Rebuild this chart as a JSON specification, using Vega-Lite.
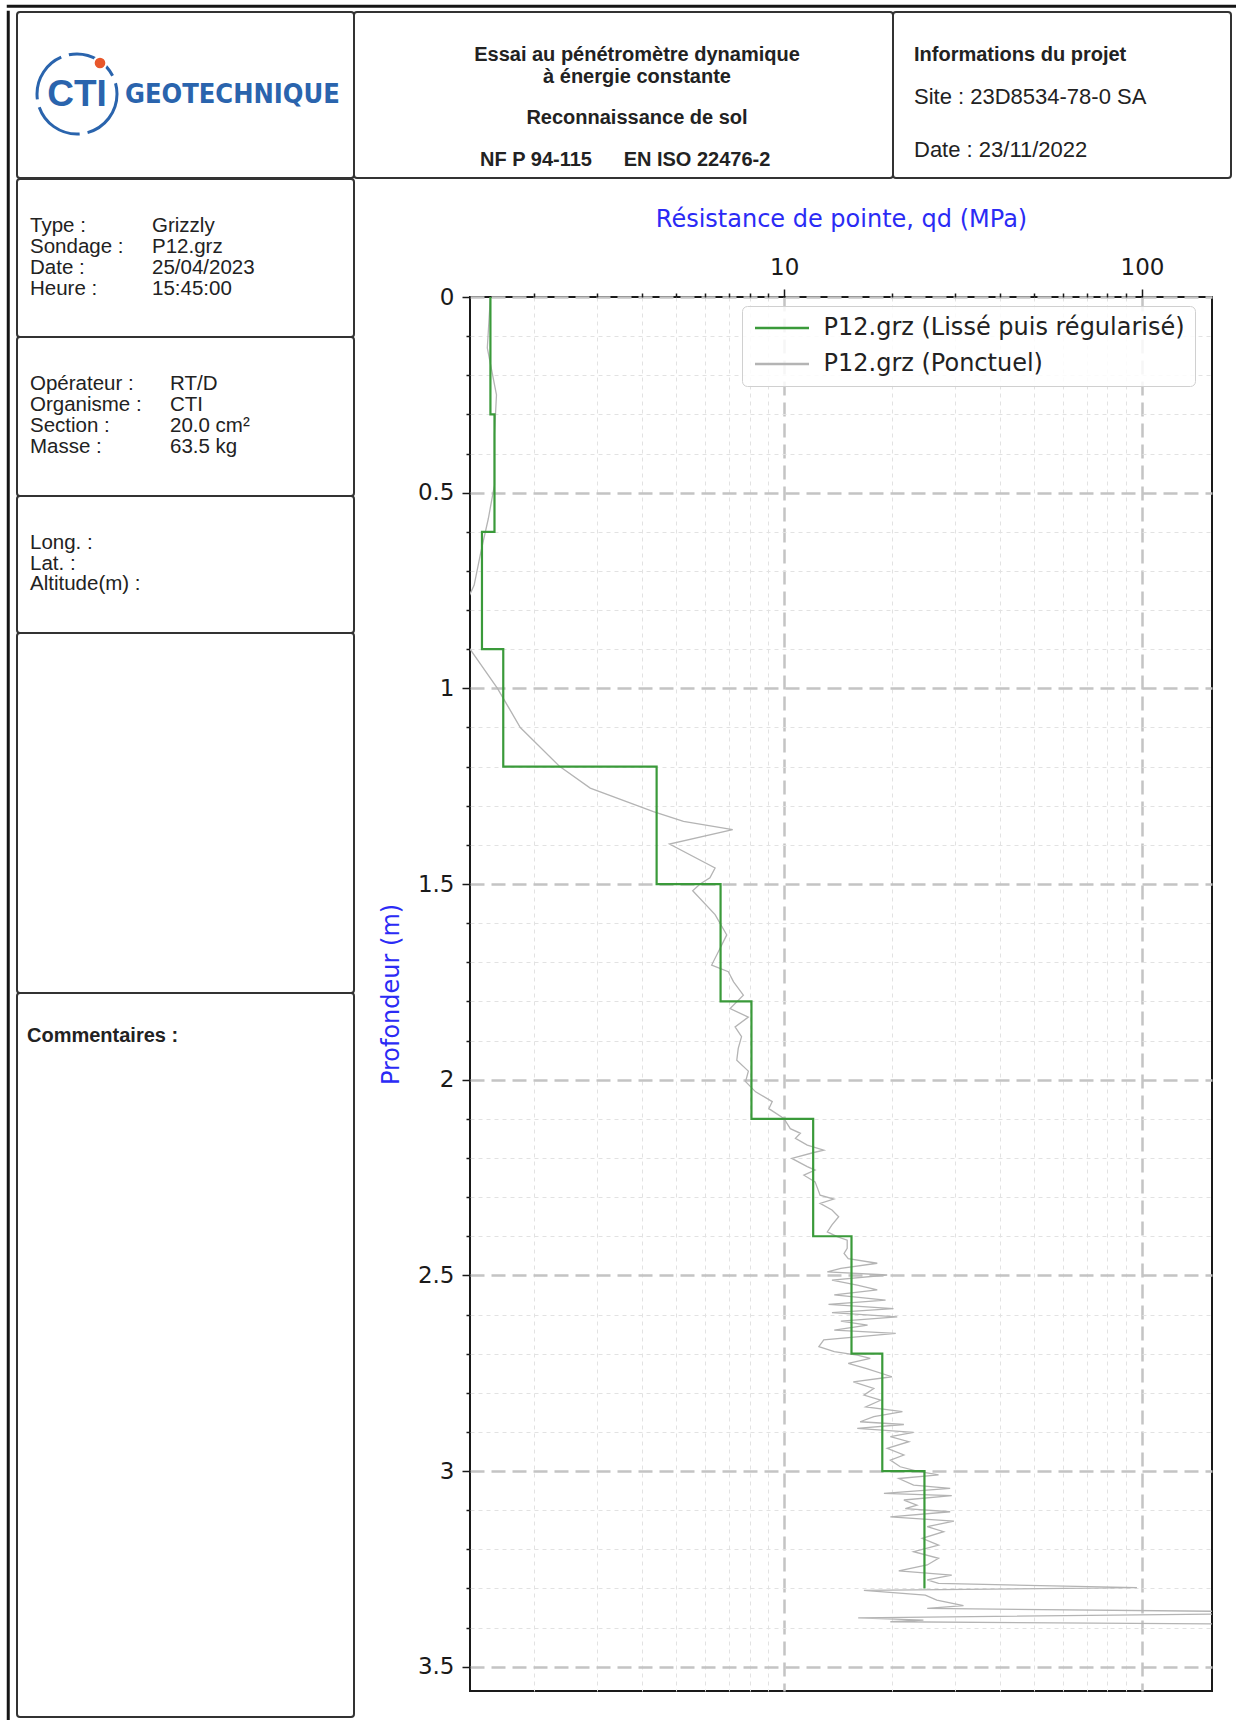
{
  "$schema": "https://vega.github.io/schema/vega-lite/v6.json",
  "padding": {"left": 6, "top": 4, "right": 0, "bottom": 0},
  "config": {
    "view": {"stroke": "#333333", "strokeWidth": 2, "cornerRadius": 3},
    "text": {"font": "Liberation Sans", "color": "#222222"},
    "concat": {"spacing": 0}
  },
  "datasets": {
    "lisse": [
      {"depth": 0, "qd": 1.51}, {"depth": 0.3, "qd": 1.55}, {"depth": 0.6, "qd": 1.43}, {"depth": 0.9, "qd": 1.64},
      {"depth": 1.2, "qd": 4.4}, {"depth": 1.5, "qd": 6.64}, {"depth": 1.8, "qd": 8.1}, {"depth": 2.1, "qd": 12.05},
      {"depth": 2.4, "qd": 15.42}, {"depth": 2.7, "qd": 18.8}, {"depth": 3.0, "qd": 24.66}, {"depth": 3.3, "qd": 24.66}
    ],
    "ponctuel": [
      {"depth": 0.0, "qd": 1.51}, {"depth": 0.13, "qd": 1.48}, {"depth": 0.25, "qd": 1.57}, {"depth": 0.35, "qd": 1.55},
      {"depth": 0.48, "qd": 1.55}, {"depth": 0.566, "qd": 1.49}, {"depth": 0.651, "qd": 1.42}, {"depth": 0.736, "qd": 1.36},
      {"depth": 0.83, "qd": 1.22}, {"depth": 0.898, "qd": 1.32}, {"depth": 1.0, "qd": 1.58}, {"depth": 1.1, "qd": 1.83},
      {"depth": 1.2, "qd": 2.36}, {"depth": 1.255, "qd": 2.87}, {"depth": 1.315, "qd": 4.31}, {"depth": 1.34, "qd": 5.23},
      {"depth": 1.361, "qd": 7.18}, {"depth": 1.398, "qd": 4.78}, {"depth": 1.459, "qd": 6.41}, {"depth": 1.484, "qd": 6.2},
      {"depth": 1.5, "qd": 5.82}, {"depth": 1.517, "qd": 5.55}, {"depth": 1.578, "qd": 6.41}, {"depth": 1.63, "qd": 6.91},
      {"depth": 1.664, "qd": 6.62}, {"depth": 1.707, "qd": 6.27}, {"depth": 1.724, "qd": 6.98}, {"depth": 1.75, "qd": 7.22},
      {"depth": 1.784, "qd": 7.69}, {"depth": 1.818, "qd": 7.06}, {"depth": 1.84, "qd": 7.94}, {"depth": 1.865, "qd": 7.29},
      {"depth": 1.89, "qd": 7.6}, {"depth": 1.92, "qd": 7.44}, {"depth": 1.95, "qd": 7.37}, {"depth": 1.978, "qd": 7.94},
      {"depth": 2.005, "qd": 7.8}, {"depth": 2.031, "qd": 8.32}, {"depth": 2.056, "qd": 9.26}, {"depth": 2.074, "qd": 9.06},
      {"depth": 2.099, "qd": 9.98}, {"depth": 2.125, "qd": 10.4}, {"depth": 2.137, "qd": 11.1}, {"depth": 2.15, "qd": 10.75},
      {"depth": 2.167, "qd": 11.6}, {"depth": 2.18, "qd": 12.9}, {"depth": 2.186, "qd": 12.1}, {"depth": 2.201, "qd": 10.5},
      {"depth": 2.222, "qd": 11.6}, {"depth": 2.231, "qd": 12.2}, {"depth": 2.244, "qd": 11.35}, {"depth": 2.261, "qd": 12.2},
      {"depth": 2.295, "qd": 12.6}, {"depth": 2.305, "qd": 13.76}, {"depth": 2.316, "qd": 12.6}, {"depth": 2.333, "qd": 13.6},
      {"depth": 2.35, "qd": 14.2}, {"depth": 2.371, "qd": 13.6}, {"depth": 2.389, "qd": 13.2}, {"depth": 2.401, "qd": 14.06},
      {"depth": 2.41, "qd": 15.0}, {"depth": 2.431, "qd": 15.0}, {"depth": 2.444, "qd": 14.7}, {"depth": 2.457, "qd": 15.1},
      {"depth": 2.469, "qd": 18.2}, {"depth": 2.482, "qd": 14.4}, {"depth": 2.491, "qd": 13.2}, {"depth": 2.499, "qd": 19.4},
      {"depth": 2.512, "qd": 13.6}, {"depth": 2.525, "qd": 16.0}, {"depth": 2.537, "qd": 18.2}, {"depth": 2.55, "qd": 13.8},
      {"depth": 2.563, "qd": 19.2}, {"depth": 2.574, "qd": 13.3}, {"depth": 2.585, "qd": 20.2}, {"depth": 2.595, "qd": 13.6},
      {"depth": 2.606, "qd": 20.7}, {"depth": 2.617, "qd": 14.4}, {"depth": 2.627, "qd": 17.1}, {"depth": 2.64, "qd": 13.8},
      {"depth": 2.648, "qd": 20.5}, {"depth": 2.665, "qd": 12.9}, {"depth": 2.682, "qd": 12.5}, {"depth": 2.695, "qd": 13.8},
      {"depth": 2.704, "qd": 16.0}, {"depth": 2.712, "qd": 17.4}, {"depth": 2.725, "qd": 15.1}, {"depth": 2.738, "qd": 17.0},
      {"depth": 2.759, "qd": 20.0}, {"depth": 2.772, "qd": 15.6}, {"depth": 2.789, "qd": 17.8}, {"depth": 2.806, "qd": 16.7},
      {"depth": 2.819, "qd": 18.6}, {"depth": 2.836, "qd": 16.9}, {"depth": 2.848, "qd": 21.4}, {"depth": 2.861, "qd": 17.8},
      {"depth": 2.874, "qd": 16.3}, {"depth": 2.881, "qd": 21.6}, {"depth": 2.891, "qd": 16.0}, {"depth": 2.901, "qd": 23.0},
      {"depth": 2.912, "qd": 19.8}, {"depth": 2.925, "qd": 22.3}, {"depth": 2.942, "qd": 19.4}, {"depth": 2.959, "qd": 21.6},
      {"depth": 2.972, "qd": 19.8}, {"depth": 2.989, "qd": 21.1}, {"depth": 3.0, "qd": 23.5}, {"depth": 3.01, "qd": 27.0},
      {"depth": 3.019, "qd": 20.9}, {"depth": 3.036, "qd": 23.0}, {"depth": 3.044, "qd": 29.1}, {"depth": 3.057, "qd": 19.0},
      {"depth": 3.063, "qd": 29.4}, {"depth": 3.074, "qd": 21.6}, {"depth": 3.087, "qd": 23.5}, {"depth": 3.096, "qd": 21.8},
      {"depth": 3.104, "qd": 29.1}, {"depth": 3.117, "qd": 19.8}, {"depth": 3.128, "qd": 29.8}, {"depth": 3.142, "qd": 25.1},
      {"depth": 3.155, "qd": 27.9}, {"depth": 3.172, "qd": 24.3}, {"depth": 3.189, "qd": 27.0}, {"depth": 3.206, "qd": 23.0},
      {"depth": 3.223, "qd": 27.0}, {"depth": 3.24, "qd": 25.1}, {"depth": 3.255, "qd": 20.9}, {"depth": 3.266, "qd": 29.4},
      {"depth": 3.278, "qd": 25.1}, {"depth": 3.287, "qd": 27.0}, {"depth": 3.298, "qd": 96.8}, {"depth": 3.305, "qd": 16.7},
      {"depth": 3.317, "qd": 24.8}, {"depth": 3.33, "qd": 26.7}, {"depth": 3.344, "qd": 31.7}, {"depth": 3.351, "qd": 25.1},
      {"depth": 3.362, "qd": 400}, {"depth": 3.375, "qd": 16.1}, {"depth": 3.381, "qd": 24.5}, {"depth": 3.385, "qd": 19.8},
      {"depth": 3.393, "qd": 400}
    ]
  },
  "spacing": 2,
  "vconcat": [
    {
      "width": 1240, "height": 0.5,
      "data": {"values": [{}]},
      "mark": {"type": "text", "fontSize": 0},
      "encoding": {"text": {"value": ""}},
      "view": {"stroke": "#151515", "strokeWidth": 2.5, "cornerRadius": 0}
    },
    {
      "spacing": 6,
      "hconcat": [
        {
          "width": 0.5, "height": 1720,
          "data": {"values": [{}]},
          "mark": {"type": "text", "fontSize": 0},
          "encoding": {"text": {"value": ""}},
          "view": {"stroke": "#151515", "strokeWidth": 2.5, "cornerRadius": 0}
        },
        {
          "spacing": -2,
          "vconcat": [
            {
              "spacing": 0,
              "bounds": "flush",
              "hconcat": [
                {
                  "width": 337, "height": 166,
                  "view": {"stroke": "#333333", "strokeWidth": 2, "cornerRadius": 3},
                  "data": {"values": [{}]},
                  "layer": [
                    {"mark": {"type": "point", "shape": "circle", "x": 60, "y": 82, "size": 6400, "filled": false, "stroke": "#2a64ad", "strokeWidth": 3, "strokeDash": [52, 8], "opacity": 1}},
                    {"mark": {"type": "point", "shape": "circle", "x": 83, "y": 51, "size": 160, "filled": true, "fill": "#e8572b", "stroke": "white", "strokeWidth": 2, "opacity": 1}},
                    {"mark": {"type": "text", "text": "CTI", "x": 60, "y": 83, "align": "center", "baseline": "middle", "fontSize": 37, "fontWeight": "bold", "color": "#2a64ad"}},
                    {"mark": {"type": "text", "text": "GEOTECHNIQUE", "x": 108, "y": 83, "align": "left", "baseline": "middle", "font": "DejaVu Sans Condensed", "fontSize": 27, "fontWeight": "bold", "color": "#2a64ad"}}
                  ]
                },
                {
                  "width": 539, "height": 166,
                  "view": {"stroke": "#333333", "strokeWidth": 2, "cornerRadius": 3},
                  "data": {"values": [{}]},
                  "layer": [
                    {"mark": {"type": "text", "text": "Essai au pénétromètre dynamique", "x": 283, "y": 43, "align": "center", "baseline": "middle", "fontSize": 20, "fontWeight": "bold"}},
                    {"mark": {"type": "text", "text": "à énergie constante", "x": 283, "y": 65, "align": "center", "baseline": "middle", "fontSize": 20, "fontWeight": "bold"}},
                    {"mark": {"type": "text", "text": "Reconnaissance de sol", "x": 283, "y": 106, "align": "center", "baseline": "middle", "fontSize": 20, "fontWeight": "bold"}},
                    {"mark": {"type": "text", "text": "NF P 94-115", "x": 182, "y": 148, "align": "center", "baseline": "middle", "fontSize": 20, "fontWeight": "bold"}},
                    {"mark": {"type": "text", "text": "EN ISO 22476-2", "x": 343, "y": 148, "align": "center", "baseline": "middle", "fontSize": 20, "fontWeight": "bold"}}
                  ]
                },
                {
                  "width": 338, "height": 166,
                  "view": {"stroke": "#333333", "strokeWidth": 2, "cornerRadius": 3},
                  "data": {"values": [{}]},
                  "layer": [
                    {"mark": {"type": "text", "text": "Informations du projet", "x": 21, "y": 43, "align": "left", "baseline": "middle", "fontSize": 20, "fontWeight": "bold"}},
                    {"mark": {"type": "text", "text": "Site : 23D8534-78-0 SA", "x": 21, "y": 85, "align": "left", "baseline": "middle", "fontSize": 22}},
                    {"mark": {"type": "text", "text": "Date : 23/11/2022", "x": 21, "y": 138, "align": "left", "baseline": "middle", "fontSize": 22}}
                  ]
                }
              ]
            },
            {
              "spacing": 23,
              "hconcat": [
                {
                  "spacing": 0,
                  "bounds": "flush",
                  "vconcat": [
                    {
                      "width": 337, "height": 158,
                      "view": {"stroke": "#333333", "strokeWidth": 2, "cornerRadius": 3},
                      "data": {"values": [
                        {"row": 1, "label": "Type :", "value": "Grizzly"},
                        {"row": 2, "label": "Sondage :", "value": "P12.grz"},
                        {"row": 3, "label": "Date :", "value": "25/04/2023"},
                        {"row": 4, "label": "Heure :", "value": "15:45:00"}
                      ]},
                      "encoding": {"y": {"field": "row", "type": "ordinal", "axis": null, "scale": {"type": "point", "range": [47, 110], "padding": 0}}},
                      "layer": [
                        {"mark": {"type": "text", "x": 13, "align": "left", "baseline": "middle", "fontSize": 20.5}, "encoding": {"text": {"field": "label"}}},
                        {"mark": {"type": "text", "x": 135, "align": "left", "baseline": "middle", "fontSize": 20.5}, "encoding": {"text": {"field": "value"}}}
                      ]
                    },
                    {
                      "width": 337, "height": 159,
                      "view": {"stroke": "#333333", "strokeWidth": 2, "cornerRadius": 3},
                      "data": {"values": [
                        {"row": 1, "label": "Opérateur :", "value": "RT/D"},
                        {"row": 2, "label": "Organisme :", "value": "CTI"},
                        {"row": 3, "label": "Section :", "value": "20.0 cm²"},
                        {"row": 4, "label": "Masse :", "value": "63.5 kg"}
                      ]},
                      "encoding": {"y": {"field": "row", "type": "ordinal", "axis": null, "scale": {"type": "point", "range": [46.5, 109.5], "padding": 0}}},
                      "layer": [
                        {"mark": {"type": "text", "x": 13, "align": "left", "baseline": "middle", "fontSize": 20.5}, "encoding": {"text": {"field": "label"}}},
                        {"mark": {"type": "text", "x": 153, "align": "left", "baseline": "middle", "fontSize": 20.5}, "encoding": {"text": {"field": "value"}}}
                      ]
                    },
                    {
                      "width": 337, "height": 137,
                      "view": {"stroke": "#333333", "strokeWidth": 2, "cornerRadius": 3},
                      "data": {"values": [
                        {"row": 1, "label": "Long. :"},
                        {"row": 2, "label": "Lat. :"},
                        {"row": 3, "label": "Altitude(m) :"}
                      ]},
                      "mark": {"type": "text", "x": 13, "align": "left", "baseline": "middle", "fontSize": 20.5},
                      "encoding": {"y": {"field": "row", "type": "ordinal", "axis": null, "scale": {"type": "point", "range": [47, 88], "padding": 0}}, "text": {"field": "label"}}
                    },
                    {
                      "width": 337, "height": 360,
                      "view": {"stroke": "#333333", "strokeWidth": 2, "cornerRadius": 3},
                      "data": {"values": [{}]},
                      "mark": {"type": "text", "fontSize": 0},
                      "encoding": {"text": {"value": ""}}
                    },
                    {
                      "width": 337, "height": 724,
                      "view": {"stroke": "#333333", "strokeWidth": 2, "cornerRadius": 3},
                      "data": {"values": [{"label": "Commentaires :"}]},
                      "mark": {"type": "text", "x": 10, "y": 43, "align": "left", "baseline": "middle", "fontSize": 20, "fontWeight": "bold"},
                      "encoding": {"text": {"field": "label"}}
                    }
                  ]
                },
                {
                  "spacing": 0,
                  "bounds": "flush",
                  "vconcat": [
                    {
                      "width": 742, "height": 118,
                      "data": {"values": [{}]},
                      "mark": {"type": "text", "fontSize": 0},
                      "encoding": {"text": {"value": ""}},
                      "view": {"stroke": null}
                    },
                    {
                      "width": 742, "height": 1394,
                      "view": {"stroke": "#1a1a1a", "strokeWidth": 2, "cornerRadius": 0},
                      "encoding": {
                        "x": {
                          "field": "qd", "type": "quantitative",
                          "scale": {"type": "log", "domain": [1.324, 156.9], "nice": false},
                          "axis": {
                            "orient": "top",
                            "values": [2, 3, 4, 5, 6, 7, 8, 9, 10, 20, 30, 40, 50, 60, 70, 80, 90, 100],
                            "labelExpr": "(datum.value == 10 || datum.value == 100) ? format(datum.value, 'd') : ''",
                            "labelFont": "DejaVu Sans", "labelFontSize": 23, "labelColor": "#1a1a1a", "labelPadding": 10,
                            "labelOverlap": false, "labelFlush": false,
                            "title": "Résistance de pointe, qd (MPa)", "titleFont": "DejaVu Sans", "titleFontSize": 24,
                            "titleFontWeight": "normal", "titleColor": "#2b2bf5", "titlePadding": 25,
                            "domain": false,
                            "tickColor": "#1a1a1a", "tickWidth": 1.5,
                            "tickSize": {"condition": {"test": "datum.value == 10 || datum.value == 100", "value": 8}, "value": 4},
                            "grid": true,
                            "gridColor": {"condition": {"test": "datum.value == 10 || datum.value == 100", "value": "#c4c4c4"}, "value": "#e2e2e2"},
                            "gridDash": {"condition": {"test": "datum.value == 10 || datum.value == 100", "value": [14, 7]}, "value": [4, 4]},
                            "gridWidth": {"condition": {"test": "datum.value == 10 || datum.value == 100", "value": 2.5}, "value": 1}
                          }
                        },
                        "y": {
                          "field": "depth", "type": "quantitative",
                          "scale": {"domain": [0, 3.562], "reverse": true, "nice": false, "zero": false},
                          "axis": {
                            "values": [0, 0.1, 0.2, 0.3, 0.4, 0.5, 0.6, 0.7, 0.8, 0.9, 1, 1.1, 1.2, 1.3, 1.4, 1.5, 1.6, 1.7, 1.8, 1.9, 2, 2.1, 2.2, 2.3, 2.4, 2.5, 2.6, 2.7, 2.8, 2.9, 3, 3.1, 3.2, 3.3, 3.4, 3.5],
                            "labelExpr": "abs(datum.value * 2 - round(datum.value * 2)) < 0.001 ? format(datum.value, '~g') : ''",
                            "labelFont": "DejaVu Sans", "labelFontSize": 23, "labelColor": "#1a1a1a", "labelPadding": 8,
                            "labelOverlap": false, "labelFlush": false,
                            "title": "Profondeur (m)", "titleFont": "DejaVu Sans", "titleFontSize": 24,
                            "titleFontWeight": "normal", "titleColor": "#2b2bf5", "titlePadding": 14,
                            "domain": false,
                            "tickColor": "#1a1a1a", "tickWidth": 1.5,
                            "tickSize": {"condition": {"test": "abs(datum.value * 2 - round(datum.value * 2)) < 0.001", "value": 8}, "value": 4},
                            "grid": true,
                            "gridColor": {"condition": {"test": "abs(datum.value * 2 - round(datum.value * 2)) < 0.001", "value": "#c4c4c4"}, "value": "#e2e2e2"},
                            "gridDash": {"condition": {"test": "abs(datum.value * 2 - round(datum.value * 2)) < 0.001", "value": [14, 7]}, "value": [4, 4]},
                            "gridWidth": {"condition": {"test": "abs(datum.value * 2 - round(datum.value * 2)) < 0.001", "value": 2.5}, "value": 1}
                          }
                        },
                        "order": {"field": "depth", "type": "quantitative"}
                      },
                      "layer": [
                        {
                          "data": {"name": "ponctuel"},
                          "mark": {"type": "line", "clip": true, "strokeWidth": 1.3},
                          "encoding": {
                            "color": {
                              "datum": "P12.grz (Ponctuel)", "type": "nominal",
                              "scale": {"domain": ["P12.grz (Lissé puis régularisé)", "P12.grz (Ponctuel)"], "range": ["#3a9a3a", "#b4b4b4"]},
                              "legend": {
                                "title": null, "orient": "none", "legendX": 734, "legendY": 300, "direction": "vertical",
                                "symbolType": "M-3,0H3", "symbolSize": 324, "symbolStrokeWidth": 2.5, "symbolOffset": 18,
                                "labelFont": "DejaVu Sans", "labelFontSize": 24, "labelColor": "#222", "labelLimit": 600, "labelOffset": 29.5,
                                "rowPadding": 12, "padding": 10, "strokeColor": "#d0d0d0", "fillColor": "rgba(255,255,255,0.85)", "cornerRadius": 5
                              }
                            }
                          }
                        },
                        {
                          "data": {"name": "lisse"},
                          "mark": {"type": "line", "clip": true, "interpolate": "step-before", "strokeWidth": 2.2},
                          "encoding": {"color": {"datum": "P12.grz (Lissé puis régularisé)", "type": "nominal"}}
                        }
                      ]
                    }
                  ]
                }
              ]
            }
          ]
        }
      ]
    }
  ]
}
